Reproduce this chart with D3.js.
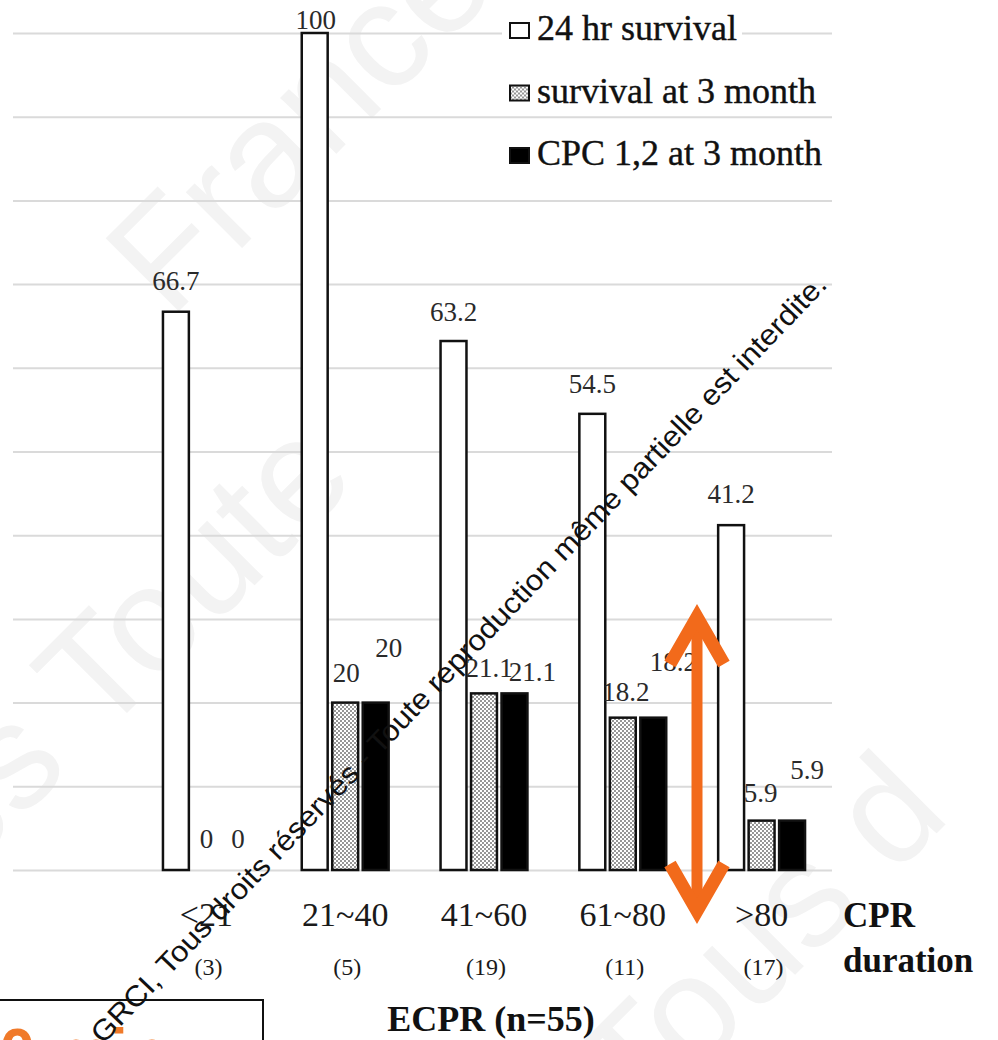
<!DOCTYPE html>
<html>
<head>
<meta charset="utf-8">
<script src="https://cdn.jsdelivr.net/npm/d3@7"></script>
<style>
  html, body { margin: 0; padding: 0; background: #fff; }
  svg { display: block; }
</style>
</head>
<body>
<svg id="chart" width="998" height="1040"></svg>
<script>
// ---------- data ----------
const categories = ["<21", "21~40", "41~60", "61~80", ">80"];
const counts = ["(3)", "(5)", "(19)", "(11)", "(17)"];
const seriesNames = ["24 hr survival", "survival at 3 month", "CPC 1,2 at 3 month"];
const survival24h = [66.7, 100, 63.2, 54.5, 41.2];
const survival3m = [0, 20, 21.1, 18.2, 5.9];
const cpc12at3m = [0, 20, 21.1, 18.2, 5.9];
const yTicks = [0, 10, 20, 30, 40, 50, 60, 70, 80, 90, 100];

// ---------- label nudges (layout only) ----------
const labelDx = [[0, 1, 0, 0, 0], [0, 1, 5, 3, -1], [1, 13, 18, 20, 15]];
const labelRise = [[22, 4, 20, 21, 22], [22, 21, 16, 17, 19], [22, 46, 12, 47, 42]];

const seriesValues = [survival24h, survival3m, cpc12at3m];

const svg = d3.select("#chart");
const serif = "'Liberation Serif', 'Times New Roman', serif";
const sans = "'Liberation Sans', Arial, sans-serif";

// pattern for dotted series
const defs = svg.append("defs");
const pat = defs.append("pattern").attr("id", "dots")
  .attr("width", 4).attr("height", 4).attr("patternUnits", "userSpaceOnUse");
pat.append("rect").attr("width", 4).attr("height", 4).attr("fill", "#fff");
pat.append("circle").attr("cx", 1).attr("cy", 1).attr("r", 0.95).attr("fill", "#6a6a6a");
pat.append("circle").attr("cx", 3).attr("cy", 3).attr("r", 0.95).attr("fill", "#6a6a6a");

const fills = ["#ffffff", "url(#dots)", "#000000"];

// faint background watermark
const faint = svg.append("g").attr("fill", "#f3f3f3")
  .attr("font-family", sans).attr("font-size", 150);
faint.append("text").attr("transform", "translate(170,320) rotate(-45)").text("France");
faint.append("text").attr("transform", "translate(-40,880) rotate(-45)").text("es Toute");
faint.append("text").attr("transform", "translate(640,1130) rotate(-45)").text("Tous d");

// scales
const x0 = d3.scaleBand().domain(categories).range([137, 831])
  .paddingInner(0.374).paddingOuter(0.187);
const x1 = d3.scaleBand().domain(seriesNames).range([0, x0.bandwidth()])
  .paddingInner(0.15).paddingOuter(0);
const y = d3.scaleLinear().domain([0, 100]).range([870, 33]);

// gridlines
const grid = svg.append("g").attr("transform", "translate(832,0)")
  .call(d3.axisLeft(y).tickValues(yTicks).tickSizeInner(819).tickSizeOuter(0).tickFormat(""));
grid.select(".domain").remove();
grid.selectAll("line").attr("stroke", "#dadada").attr("stroke-width", 2);

// bars
const barData = [];
seriesNames.forEach((s, si) => {
  categories.forEach((c, ci) => {
    barData.push({ s, si, c, ci, v: seriesValues[si][ci] });
  });
});

svg.append("g").selectAll("rect")
  .data(barData.filter(d => d.v > 0))
  .join("rect")
  .attr("x", d => x0(d.c) + x1(d.s))
  .attr("y", d => y(d.v))
  .attr("width", x1.bandwidth())
  .attr("height", d => y(0) - y(d.v))
  .attr("fill", d => fills[d.si])
  .attr("stroke", "#111")
  .attr("stroke-width", 2.5);

// value labels
svg.append("g").selectAll("text")
  .data(barData)
  .join("text")
  .attr("x", d => x0(d.c) + x1(d.s) + x1.bandwidth() / 2 + labelDx[d.si][d.ci])
  .attr("y", d => y(d.v) - labelRise[d.si][d.ci])
  .attr("text-anchor", "middle")
  .attr("font-family", serif)
  .attr("font-size", 27)
  .attr("fill", "#2a2a2a")
  .text(d => d.v);

// category labels
svg.append("g").selectAll("text")
  .data(categories)
  .join("text")
  .attr("x", d => x0(d) + x0.bandwidth() / 2)
  .attr("y", 926)
  .attr("text-anchor", "middle")
  .attr("font-family", serif)
  .attr("font-size", 34)
  .attr("fill", "#1a1a1a")
  .text(d => d);

svg.append("g").selectAll("text")
  .data(counts)
  .join("text")
  .attr("x", (d, i) => x0(categories[i]) + x0.bandwidth() / 2 + 2)
  .attr("y", 975)
  .attr("text-anchor", "middle")
  .attr("font-family", serif)
  .attr("font-size", 24)
  .attr("fill", "#1a1a1a")
  .text(d => d);

// axis titles
svg.append("text").attr("x", 843).attr("y", 927)
  .attr("font-family", serif).attr("font-weight", "bold").attr("font-size", 35)
  .attr("fill", "#111").text("CPR");
svg.append("text").attr("x", 843).attr("y", 972)
  .attr("font-family", serif).attr("font-weight", "bold").attr("font-size", 35)
  .attr("fill", "#111").text("duration");
svg.append("text").attr("x", 491).attr("y", 1031).attr("text-anchor", "middle")
  .attr("font-family", serif).attr("font-weight", "bold").attr("font-size", 36)
  .attr("fill", "#111").text("ECPR (n=55)");

// legend
const legend = svg.append("g");
const legendRows = legend.selectAll("g").data(seriesNames).join("g")
  .attr("transform", (d, i) => `translate(508,${40 + i * 62.5})`);
legendRows.append("rect").attr("x", -6).attr("y", -32).attr("width", 240).attr("height", 38).attr("fill", "#fff");
legendRows.append("rect").attr("x", 2).attr("y", -17).attr("width", 19).attr("height", 15)
  .attr("fill", (d, i) => fills[i]).attr("stroke", "#111").attr("stroke-width", 2);
legendRows.append("text").attr("x", 29).attr("y", 0)
  .attr("font-family", serif).attr("font-size", 36).attr("fill", "#111")
  .attr("stroke", "#111").attr("stroke-width", 0.4)
  .text(d => d);

// bottom-left box with orange text
svg.append("rect").attr("x", -5).attr("y", 1000).attr("width", 268).attr("height", 100)
  .attr("fill", "#fff").attr("stroke", "#111").attr("stroke-width", 2);
svg.append("text").attr("x", -36).attr("y", 1074)
  .attr("font-family", sans).attr("font-weight", "bold").attr("font-size", 64)
  .attr("fill", "#f07a2a").text("20 min");

// black diagonal watermark text
svg.append("text")
  .attr("transform", "translate(103,1045) rotate(-46.3)")
  .attr("font-family", sans)
  .attr("font-size", 29)
  .attr("fill", "#111")
  .attr("textLength", 1050)
  .attr("lengthAdjust", "spacingAndGlyphs")
  .text("GRCI, Tous droits réservés - Toute reproduction même partielle est interdite.");

// orange double-headed arrow
const arrow = svg.append("g").attr("stroke", "#f26a1b").attr("fill", "none");
arrow.append("line").attr("x1", 697).attr("x2", 697).attr("y1", 618).attr("y2", 910)
  .attr("stroke-width", 11);
arrow.append("polyline").attr("points", "670,664 697,617 724,664")
  .attr("stroke-width", 13).attr("stroke-linejoin", "miter").attr("stroke-linecap", "butt");
arrow.append("polyline").attr("points", "670,864 697,911 724,864")
  .attr("stroke-width", 13).attr("stroke-linejoin", "miter").attr("stroke-linecap", "butt");
</script>
</body>
</html>
